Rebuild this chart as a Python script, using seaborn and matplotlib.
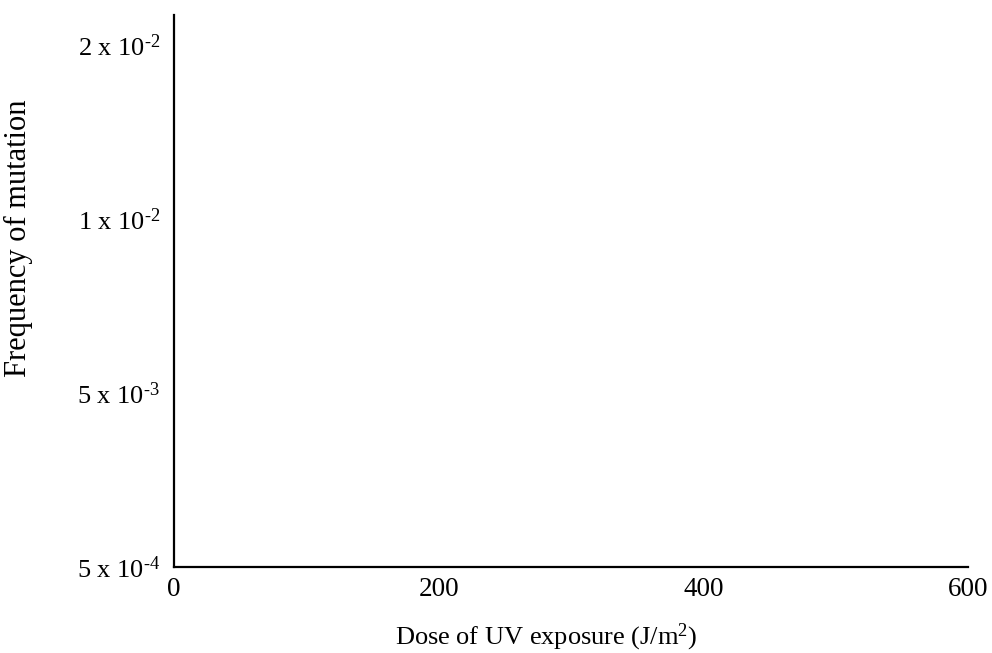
import matplotlib
matplotlib.use("Agg")
import matplotlib.pyplot as plt
import seaborn as sns
import pandas as pd

# Axis values (the chart itself is empty)
dose_ticks = [0, 200, 400, 600]
freq_positions = [0, 1, 2, 3]
freq_labels = ["5 x 10$\\mathregular{^{\u20104}}$", "5 x 10$\\mathregular{^{\u20103}}$",
               "1 x 10$\\mathregular{^{\u20102}}$", "2 x 10$\\mathregular{^{\u20102}}$"]
x_label = r"Dose of UV exposure (J/m$\mathregular{^{2}}$)"
y_label = "Frequency of mutation"

sns.set_theme(style="white")
plt.rcParams['font.family'] = ['Liberation Serif', 'DejaVu Serif']
plt.rcParams['mathtext.fontset'] = 'custom'
plt.rcParams['mathtext.rm'] = 'Liberation Serif'
plt.rcParams['mathtext.it'] = 'Liberation Serif:italic'

fig = plt.figure(figsize=(9.92, 6.53), dpi=100)
ax = fig.add_axes([174 / 992, 1 - 567 / 653, 794 / 992, 552 / 653])

# empty frame, no data plotted
df = pd.DataFrame({"dose": [], "freq": []})
sns.lineplot(data=df, x="dose", y="freq", ax=ax)

ax.set_xlim(0, 600)
ax.set_ylim(0, 3 + 30 / 174)
ax.set_xticks(dose_ticks)
ax.set_xticklabels([str(t) for t in dose_ticks])
ax.set_yticks(freq_positions)
ax.set_yticklabels(freq_labels)
ax.tick_params(axis='both', length=0, colors='black')
ax.tick_params(axis='x', pad=7, labelsize=19.5)
ax.tick_params(axis='y', pad=10, labelsize=19)

sns.despine(ax=ax)
for side in ['left', 'bottom']:
    ax.spines[side].set_color('black')
    ax.spines[side].set_linewidth(1.6)

ax.set_xlabel(x_label, fontsize=19, color='black', va='center')
ax.set_ylabel(y_label, fontsize=22, color='black', va='center')
ax.xaxis.set_label_coords((546 - 174) / 794, (567 - 637) / 552)
ax.yaxis.set_label_coords((18 - 174) / 794, (567 - 238) / 552)

fig.savefig("out.png", dpi=100)
